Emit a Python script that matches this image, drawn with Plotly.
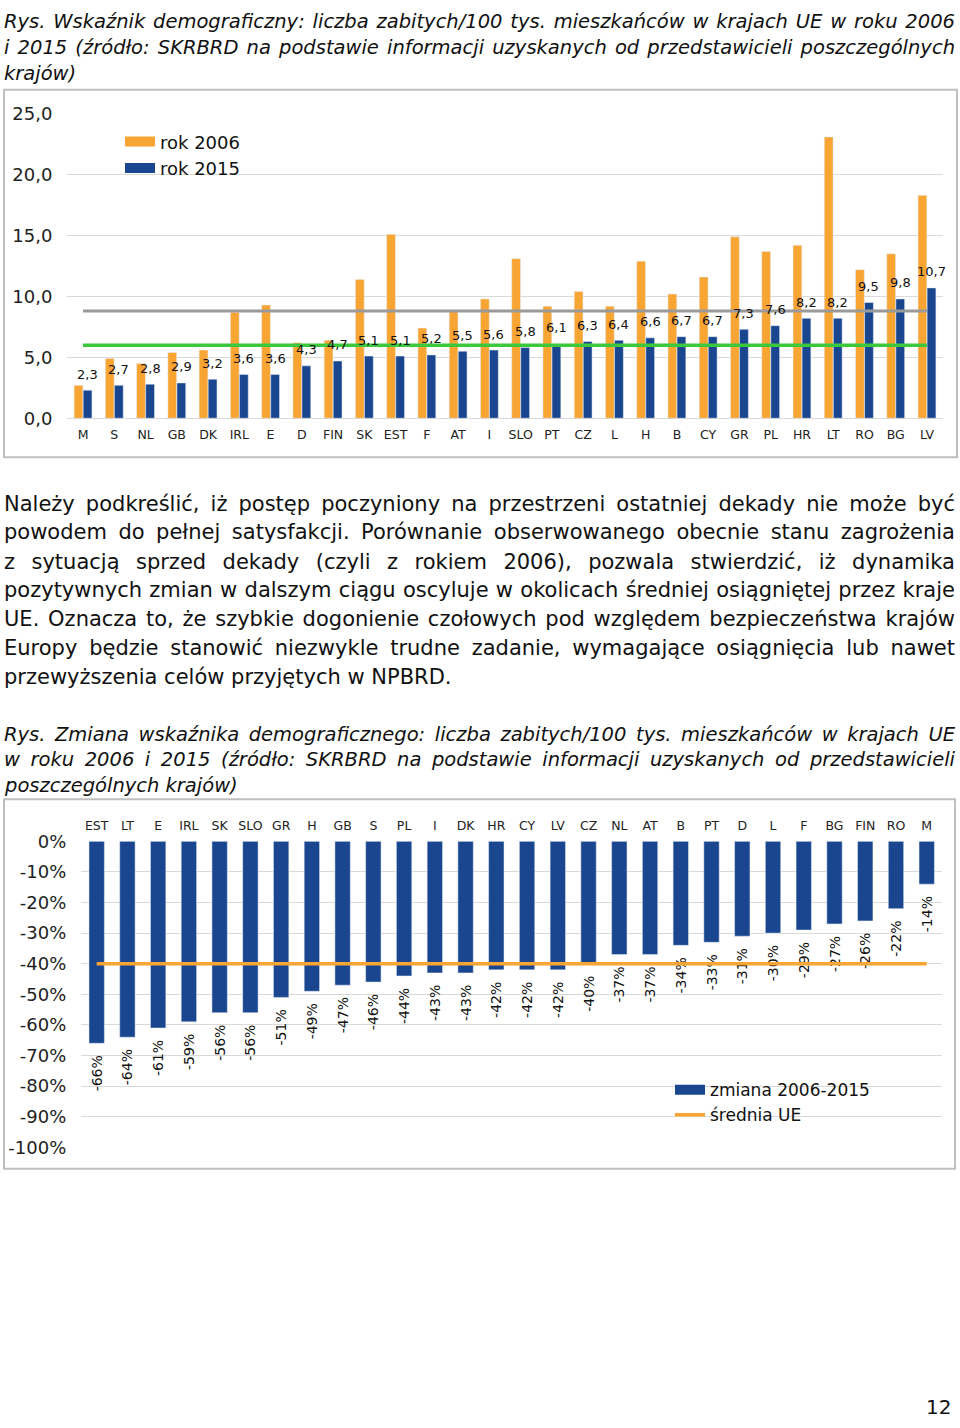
import json
import plotly.graph_objects as go

W, H = 960, 1428

# ---------------- data ----------------
countries_1 = ["M", "S", "NL", "GB", "DK", "IRL", "E", "D", "FIN", "SK", "EST", "F", "AT", "I",
               "SLO", "PT", "CZ", "L", "H", "B", "CY", "GR", "PL", "HR", "LT", "RO", "BG", "LV"]
rate_2006 = [2.7, 4.9, 4.5, 5.4, 5.6, 8.7, 9.3, 6.2, 6.4, 11.4, 15.1, 7.4, 8.8, 9.8,
             13.1, 9.2, 10.4, 9.2, 12.9, 10.2, 11.6, 14.9, 13.7, 14.2, 23.1, 12.2, 13.5, 18.3]
rate_2015 = [2.3, 2.7, 2.8, 2.9, 3.2, 3.6, 3.6, 4.3, 4.7, 5.1, 5.1, 5.2, 5.5, 5.6,
             5.8, 6.1, 6.3, 6.4, 6.6, 6.7, 6.7, 7.3, 7.6, 8.2, 8.2, 9.5, 9.8, 10.7]
avg_line_grey = 8.8
avg_line_green = 6.0
y1_ticks = [0, 5, 10, 15, 20, 25]

countries_2 = ["EST", "LT", "E", "IRL", "SK", "SLO", "GR", "H", "GB", "S", "PL", "I", "DK", "HR",
               "CY", "LV", "CZ", "NL", "AT", "B", "PT", "D", "L", "F", "BG", "FIN", "RO", "M"]
change = [-66, -64, -61, -59, -56, -56, -51, -49, -47, -46, -44, -43, -43, -42,
          -42, -42, -40, -37, -37, -34, -33, -31, -30, -29, -27, -26, -22, -14]
eu_avg_change = -40
y2_ticks = [0, -10, -20, -30, -40, -50, -60, -70, -80, -90, -100]

caption_1 = [
    "Rys. Wskaźnik demograficzny: liczba zabitych/100 tys. mieszkańców w krajach UE w roku 2006",
    "i 2015 (źródło: SKRBRD na podstawie informacji uzyskanych od przedstawicieli poszczególnych",
    "krajów)",
]
body = [
    "Należy podkreślić, iż postęp poczyniony na przestrzeni ostatniej dekady nie może być",
    "powodem do pełnej satysfakcji. Porównanie obserwowanego obecnie stanu zagrożenia",
    "z sytuacją sprzed dekady (czyli z rokiem 2006), pozwala stwierdzić, iż dynamika",
    "pozytywnych zmian w dalszym ciągu oscyluje w okolicach średniej osiągniętej przez kraje",
    "UE. Oznacza to, że szybkie dogonienie czołowych pod względem bezpieczeństwa krajów",
    "Europy będzie stanowić niezwykle trudne zadanie, wymagające osiągnięcia lub nawet",
    "przewyższenia celów przyjętych w NPBRD.",
]
caption_2 = [
    "Rys. Zmiana wskaźnika demograficznego: liczba zabitych/100 tys. mieszkańców w krajach UE",
    "w roku 2006 i 2015 (źródło: SKRBRD na podstawie informacji uzyskanych od przedstawicieli",
    "poszczególnych krajów)",
]
page_number = "12"

# ---------------- style ----------------
ORANGE = "#F9A533"
BLUE = "#1A468F"
GREY = "#9A9A9A"
GREEN = "#3CC83C"
GRID = "#D9D9D9"
FONT = "DejaVu Sans"
TEXTFONT = "DejaVu Sans"


def px(x):
    return x / W


def py(y):
    return 1 - y / H


fig = go.Figure()

# chart 1
fig.add_bar(x=countries_1, y=rate_2006, name="rok 2006", marker_color=ORANGE,
            xaxis="x", yaxis="y", showlegend=False)
fig.add_bar(x=countries_1, y=rate_2015, name="rok 2015", marker_color=BLUE,
            xaxis="x", yaxis="y", showlegend=False)
fig.add_scatter(x=countries_1, y=[avg_line_grey] * len(countries_1), mode="lines",
                line=dict(color=GREY, width=3), xaxis="x", yaxis="y", showlegend=False)
fig.add_scatter(x=countries_1, y=[avg_line_green] * len(countries_1), mode="lines",
                line=dict(color=GREEN, width=3.5), xaxis="x", yaxis="y", showlegend=False)
# legend proxies (wide swatches)
fig.add_scatter(x=[None], y=[None], mode="lines", name="rok 2006",
                line=dict(color=ORANGE, width=10), xaxis="x", yaxis="y", legend="legend")
fig.add_scatter(x=[None], y=[None], mode="lines", name="rok 2015",
                line=dict(color=BLUE, width=10), xaxis="x", yaxis="y", legend="legend")

# chart 2
fig.add_bar(x=countries_2, y=change, name="zmiana 2006-2015", marker_color=BLUE,
            xaxis="x2", yaxis="y2", width=0.5, showlegend=False,
            text=[f"{v}%\u00a0\u00a0" for v in change], textposition="outside", textangle=-90,
            constraintext="none", cliponaxis=False,
            textfont=dict(family=FONT, size=14, color="#111111"))
fig.add_scatter(x=countries_2, y=[eu_avg_change] * len(countries_2), mode="lines",
                name="średnia UE", line=dict(color=ORANGE, width=3.5),
                xaxis="x2", yaxis="y2", showlegend=False)
fig.add_scatter(x=[None], y=[None], mode="lines", name="zmiana 2006-2015",
                line=dict(color=BLUE, width=10), xaxis="x2", yaxis="y2", legend="legend2")
fig.add_scatter(x=[None], y=[None], mode="lines", name="średnia UE",
                line=dict(color=ORANGE, width=3.5), xaxis="x2", yaxis="y2", legend="legend2")

# ---------------- text ----------------
ann = []
justify = {}  # annotation index -> target width in px


def add_lines(lines, centers, size, italic):
    for i, line in enumerate(lines):
        if i < len(lines) - 1:
            justify[str(len(ann))] = 951
        ann.append(dict(text=f"<i>{line}</i>" if italic else line, x=px(2), y=py(centers[i]),
                        xref="paper", yref="paper", xanchor="left", yanchor="middle",
                        align="left", showarrow=False,
                        font=dict(family=TEXTFONT, size=size, color="#111111")))


add_lines(caption_1, [11, 37, 63], 19.5, True)
add_lines(body, [500, 529, 559, 588, 617, 647, 676], 21, False)
add_lines(caption_2, [734, 760, 786], 19.5, True)
ann.append(dict(text=page_number, x=px(953), y=py(1417), xref="paper", yref="paper",
                xanchor="right", yanchor="middle", showarrow=False,
                font=dict(family=FONT, size=20, color="#111111")))

# value labels above the 2015 bars (anchored to data, shifted onto the blue bar)
for c, v in zip(countries_1, rate_2015):
    ann.append(dict(text=f"{v:.1f}".replace(".", ","), x=c, y=v, xref="x", yref="y",
                    xanchor="center", yanchor="middle", xshift=4.5, yshift=16,
                    showarrow=False, font=dict(family=FONT, size=13, color="#111111")))

shapes = [
    dict(type="rect", xref="paper", yref="paper", x0=px(4), y0=py(80), x1=px(957), y1=py(453),
         line=dict(color="#BFBFBF", width=2), layer="below"),
    dict(type="rect", xref="paper", yref="paper", x0=px(4), y0=py(800), x1=px(955), y1=py(1175),
         line=dict(color="#BFBFBF", width=2), layer="below"),
]

fig.update_layout(
    width=W, height=H,
    margin=dict(l=0, r=0, t=0, b=0),
    paper_bgcolor="white", plot_bgcolor="white",
    separators=", ",
    barmode="group", bargap=0.42, bargroupgap=0.03,
    font=dict(family=FONT, color="#222222"),
    annotations=ann, shapes=shapes,
    legend=dict(x=px(120), y=py(114), xanchor="left", yanchor="top",
                font=dict(family=FONT, size=18, color="#111111"),
                bgcolor="rgba(0,0,0,0)", tracegroupgap=0, itemwidth=30),
    legend2=dict(x=px(670), y=py(1077), xanchor="left", yanchor="top",
                 font=dict(family=FONT, size=17, color="#111111"),
                 bgcolor="rgba(0,0,0,0)", tracegroupgap=0, itemwidth=30),
    xaxis=dict(domain=[px(67.4), px(942.6)], anchor="y", showgrid=False, showline=False,
               range=[-0.5, len(countries_1) - 0.5], autorange=False,
               ticks="", tickfont=dict(size=12.5, color="#222222"), ticklabelstandoff=7),
    yaxis=dict(domain=[py(413.3), py(104.3)], anchor="x", range=[0, 25], autorange=False,
               tickvals=y1_ticks, tickformat=".1f", gridcolor=GRID, gridwidth=1,
               zeroline=True, zerolinecolor=GRID, zerolinewidth=1,
               tickfont=dict(size=18, color="#222222"), ticklabelstandoff=14, showline=False),
    xaxis2=dict(domain=[px(81.3), px(942.1)], anchor="y2", side="top", showgrid=False,
                range=[-0.5, len(countries_2) - 0.5], autorange=False,
                showline=False, ticks="", tickfont=dict(size=12.5, color="#222222"),
                ticklabelstandoff=8),
    yaxis2=dict(domain=[py(1153.3), py(842.7)], anchor="x2", range=[-100, 0], autorange=False,
                tickvals=y2_ticks, ticktext=[f"{v}%" for v in y2_ticks],
                gridcolor=GRID, gridwidth=1, zeroline=False,
                tickfont=dict(size=18, color="#222222"), ticklabelstandoff=14, showline=False),
)

post_js = """
document.body.style.margin = '0';
document.body.style.overflow = 'hidden';
(function () {
  var T = %s;
  var gd = document.getElementById('{plot_id}');
  gd.querySelectorAll('g.annotation').forEach(function (g) {
    var i = g.getAttribute('data-index');
    if (!(i in T)) return;
    var t = g.querySelector('text.annotation-text');
    if (!t) return;
    var w = t.getComputedTextLength();
    var n = (t.textContent.match(/ /g) || []).length;
    if (n > 0 && T[i] > w) t.style.wordSpacing = ((T[i] - w) / n) + 'px';
  });
})();
""" % json.dumps(justify)

fig.write_html("out.html", post_script=post_js, config={"displayModeBar": False})
